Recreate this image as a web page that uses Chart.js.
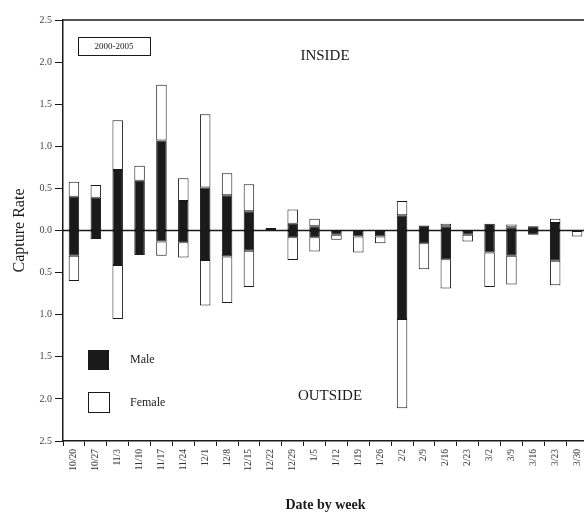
<!DOCTYPE html>
<html>
<head>
<meta charset="utf-8">
<script src="https://cdn.jsdelivr.net/npm/chart.js@4.4.1/dist/chart.umd.min.js"></script>
<style>
  html, body { margin: 0; padding: 0; background: #fff; overflow: hidden; }
  #wrap { width: 592px; height: 529px; }
</style>
</head>
<body>
<div id="wrap"><canvas id="myCanvas"></canvas></div>
<script>
const weeks = ['10/20', '10/27', '11/3', '11/10', '11/17', '11/24', '12/1', '12/8', '12/15', '12/22',
    '12/29', '1/5', '1/12', '1/19', '1/26', '2/2', '2/9', '2/16', '2/23', '3/2', '3/9', '3/16', '3/23', '3/30'];

// captures per trap, inside the fence (plotted upward)
const insideMale = [0.40, 0.39, 0.72, 0.59, 1.07, 0.35, 0.51, 0.42, 0.23, 0.03,
    0.08, 0.05, 0, 0, 0, 0.18, 0.06, 0.05, 0, 0.08, 0.04, 0.05, 0.09, 0];
const insideFemale = [0.18, 0.15, 0.59, 0.18, 0.66, 0.27, 0.87, 0.26, 0.32, 0,
    0.17, 0.09, 0, 0, 0, 0.17, 0, 0.03, 0, 0, 0.03, 0, 0.05, 0];

// outside the fence (plotted downward)
const outsideMale = [0.30, 0.10, 0.41, 0.29, 0.13, 0.14, 0.35, 0.31, 0.24, 0,
    0.08, 0.08, 0.05, 0.07, 0.07, 1.05, 0.15, 0.34, 0.05, 0.26, 0.30, 0.05, 0.36, 0];
const outsideFemale = [0.30, 0, 0.64, 0, 0.17, 0.18, 0.54, 0.55, 0.43, 0,
    0.27, 0.17, 0.06, 0.19, 0.08, 1.06, 0.31, 0.35, 0.08, 0.41, 0.34, 0, 0.29, 0.07];

const yTicks = [-2.5, -2.0, -1.5, -1.0, -0.5, 0, 0.5, 1.0, 1.5, 2.0, 2.5];

const serif = '"Liberation Serif", "DejaVu Serif", serif';
const ink = '#1a1a1a';

function makeSet(label, values, fill, sign) {
    return {
        label: label,
        data: values.map(v => v * sign),
        backgroundColor: fill,
        borderColor: ink,
        borderWidth: 1,
        borderSkipped: false,
        stack: 'sex',
        barPercentage: 0.48,
        categoryPercentage: 1.0,
    };
}

// frame lines, zero line and the text placed inside the plot
const decorations = {
    id: 'decorations',
    afterDatasetsDraw(chart) {
        const ctx = chart.ctx;
        const area = chart.chartArea;
        const y = chart.scales.y;
        ctx.save();
        ctx.strokeStyle = ink;

        ctx.lineWidth = 1.5;
        ctx.beginPath();
        ctx.moveTo(area.left, y.getPixelForValue(2.5));
        ctx.lineTo(area.right, y.getPixelForValue(2.5));
        ctx.stroke();

        ctx.beginPath();
        ctx.moveTo(area.left, y.getPixelForValue(0));
        ctx.lineTo(area.right, y.getPixelForValue(0));
        ctx.stroke();

        ctx.fillStyle = ink;
        ctx.textBaseline = 'middle';
        ctx.textAlign = 'center';
        ctx.font = `15px ${serif}`;
        ctx.fillText('INSIDE', area.left + 262, area.top + 36);
        ctx.fillText('OUTSIDE', area.left + 267, area.top + 376);

        // period box
        ctx.lineWidth = 1;
        ctx.strokeRect(area.left + 15.5, area.top + 17.5, 72, 18);
        ctx.font = `9px ${serif}`;
        ctx.fillText('2000-2005', area.left + 51, area.top + 27);

        // legend
        ctx.fillRect(area.left + 25, area.top + 330, 21, 20);
        ctx.strokeRect(area.left + 25.5, area.top + 372.5, 21, 20);
        ctx.textAlign = 'left';
        ctx.font = `12px ${serif}`;
        ctx.fillText('Male', area.left + 67, area.top + 340);
        ctx.fillText('Female', area.left + 67, area.top + 383);
        ctx.restore();
    }
};

new Chart(document.getElementById('myCanvas'), {
    type: 'bar',
    data: {
        labels: weeks,
        datasets: [
            makeSet('Male inside', insideMale, ink, 1),
            makeSet('Female inside', insideFemale, '#ffffff', 1),
            makeSet('Male outside', outsideMale, ink, -1),
            makeSet('Female outside', outsideFemale, '#ffffff', -1),
        ],
    },
    options: {
        responsive: true,
        maintainAspectRatio: false,
        animation: false,
        layout: { padding: { top: 20, right: 4, left: 0, bottom: 0 } },
        plugins: {
            legend: { display: false },
            tooltip: { enabled: false },
        },
        scales: {
            x: {
                stacked: true,
                afterFit(scale) { scale.height = 88; },
                border: { display: true, color: ink, width: 1.5 },
                grid: { display: true, drawOnChartArea: false, drawTicks: true, tickLength: 5, color: ink, offset: true },
                ticks: {
                    autoSkip: false,
                    minRotation: 90,
                    maxRotation: 90,
                    padding: 3,
                    color: '#333',
                    font: { family: serif, size: 9.5 },
                },
                title: {
                    display: true,
                    text: 'Date by week',
                    color: ink,
                    font: { family: serif, size: 14, weight: 'bold' },
                    padding: { top: 4, bottom: 15 },
                },
            },
            y: {
                stacked: true,
                min: -2.5,
                max: 2.5,
                afterFit(scale) { scale.width = 63; },
                afterBuildTicks(scale) { scale.ticks = yTicks.map(v => ({ value: v })); },
                border: { display: true, color: ink, width: 1.5 },
                grid: { display: true, drawOnChartArea: false, drawTicks: true, tickLength: 8, color: ink },
                ticks: {
                    padding: 3,
                    color: '#444',
                    font: { family: serif, size: 10 },
                    callback: v => Math.abs(v).toFixed(1),
                },
                title: {
                    display: true,
                    text: 'Capture Rate',
                    color: ink,
                    font: { family: serif, size: 16 },
                    padding: { top: 10, bottom: 0 },
                },
            },
        },
    },
    plugins: [decorations],
});
</script>
</body>
</html>
